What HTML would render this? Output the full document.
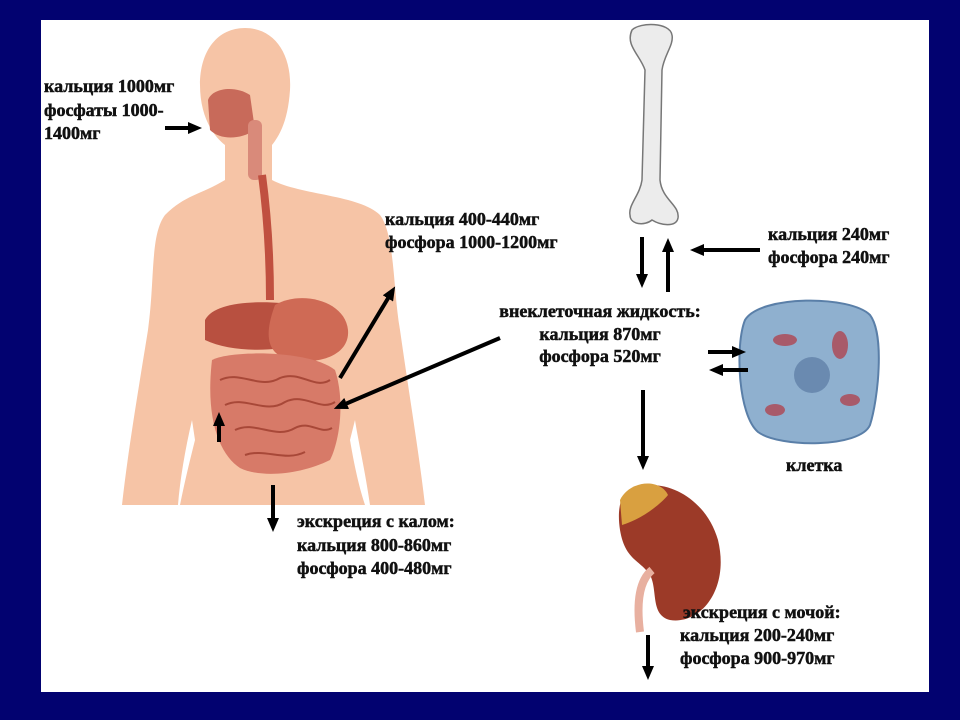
<!DOCTYPE html>
<html><head><meta charset="utf-8"><style>
html,body{margin:0;padding:0;width:960px;height:720px;background:#020270;overflow:hidden}
svg{position:absolute;left:0;top:0}
text{font-family:"Liberation Serif","DejaVu Serif",serif;font-weight:bold;font-size:18px;fill:#111;stroke:#111;stroke-width:0.5}
</style></head><body>
<svg width="960" height="720" viewBox="0 0 960 720">
<defs><marker id="a" markerWidth="14" markerHeight="12" refX="4" refY="6" orient="auto" markerUnits="userSpaceOnUse"><path d="M0,0 L14,6 L0,12 Z" fill="#000"/></marker></defs>
<rect x="41" y="20" width="888" height="672" fill="#fff"/>
<!-- body -->
<path d="M245,28 C275,28 292,55 290,90 C288,120 280,135 272,145 L272,180 C300,195 360,195 380,215 C395,235 393,290 400,330 C410,400 420,460 425,505 L370,505 C365,470 358,440 355,420 L350,440 C355,470 360,490 365,505 L180,505 C185,480 190,460 195,440 L192,420 C185,450 180,480 178,505 L122,505 C128,450 140,380 148,330 C155,280 150,235 165,215 C185,195 200,195 225,180 L225,145 C212,135 200,115 200,85 C200,50 218,28 245,28 Z" fill="#f6c4a6"/>
<path d="M208,100 C212,88 235,85 250,95 L255,130 C240,140 220,140 210,130 Z" fill="#c86a5a"/>
<rect x="248" y="120" width="14" height="60" rx="6" fill="#d98a7a"/>
<path d="M262,175 C268,220 270,260 270,300" stroke="#c05040" stroke-width="8" fill="none"/>
<path d="M205,320 C215,300 265,300 300,305 C320,310 320,335 300,345 C270,352 230,352 205,340 Z" fill="#b85040"/>
<path d="M275,305 C300,290 345,300 348,330 C350,355 320,365 290,360 C270,355 262,340 275,305 Z" fill="#cf6a55"/>
<path d="M212,360 C230,350 310,350 335,370 C345,400 340,440 330,460 C300,475 260,478 240,468 C220,455 205,420 212,360 Z" fill="#d77a68"/>
<g stroke="#a84838" stroke-width="2" fill="none">
<path d="M220,380 C240,370 260,390 280,378 C300,370 315,390 330,380"/>
<path d="M225,405 C245,395 265,415 285,402 C305,392 320,412 335,402"/>
<path d="M235,430 C255,420 275,440 295,428 C310,420 320,435 332,428"/>
<path d="M245,455 C265,448 285,462 305,452"/>
</g>
<!-- bone -->
<path d="M632,30 C640,22 670,22 672,35 C674,45 664,55 662,70 L660,180 C662,200 680,205 678,218 C676,228 660,225 652,220 C645,226 630,225 630,215 C628,205 640,195 642,180 L645,70 C640,55 625,45 632,30 Z" fill="#ececec" stroke="#777" stroke-width="1.5"/>
<!-- cell -->
<path d="M745,320 C760,295 850,295 870,315 C885,335 878,400 870,425 C860,448 780,448 758,432 C738,415 735,345 745,320 Z" fill="#8fb0cf" stroke="#5a7fa8" stroke-width="2"/>
<g fill="#a85a6a"><ellipse cx="785" cy="340" rx="12" ry="6"/><ellipse cx="840" cy="345" rx="8" ry="14"/><ellipse cx="775" cy="410" rx="10" ry="6"/><ellipse cx="850" cy="400" rx="10" ry="6"/></g>
<circle cx="812" cy="375" r="18" fill="#6a8ab0"/>
<!-- kidney -->
<path d="M630,490 C660,475 705,495 718,540 C730,590 700,625 670,620 C650,615 658,590 650,575 C640,560 625,560 620,530 C617,510 620,495 630,490 Z" fill="#9c3a28"/>
<path d="M620,500 C630,480 660,478 668,495 C660,505 640,520 622,525 Z" fill="#d9a040"/>
<path d="M652,570 C640,580 636,600 640,632" stroke="#e8b0a0" stroke-width="8" fill="none"/>
<!-- arrows -->
<g stroke="#000" stroke-width="4" fill="none">
<line x1="165" y1="128" x2="192" y2="128" marker-end="url(#a)"/>
<line x1="340" y1="378" x2="390" y2="295" marker-end="url(#a)"/>
<line x1="500" y1="338" x2="343" y2="405" marker-end="url(#a)"/>
<line x1="219" y1="442" x2="219" y2="422" marker-end="url(#a)"/>
<line x1="273" y1="485" x2="273" y2="522" marker-end="url(#a)"/>
<line x1="642" y1="237" x2="642" y2="278" marker-end="url(#a)"/>
<line x1="668" y1="292" x2="668" y2="248" marker-end="url(#a)"/>
<line x1="760" y1="250" x2="700" y2="250" marker-end="url(#a)"/>
<line x1="708" y1="352" x2="736" y2="352" marker-end="url(#a)"/>
<line x1="748" y1="370" x2="719" y2="370" marker-end="url(#a)"/>
<line x1="643" y1="390" x2="643" y2="460" marker-end="url(#a)"/>
<line x1="648" y1="635" x2="648" y2="670" marker-end="url(#a)"/>
</g>
<text x="44" y="92">кальция 1000мг</text>
<text x="44" y="116">фосфаты 1000-</text>
<text x="44" y="139">1400мг</text>
<text x="385" y="225">кальция 400-440мг</text>
<text x="385" y="248">фосфора 1000-1200мг</text>
<text x="600" y="317" text-anchor="middle">внеклеточная жидкость:</text>
<text x="600" y="340" text-anchor="middle">кальция 870мг</text>
<text x="600" y="362" text-anchor="middle">фосфора 520мг</text>
<text x="768" y="240">кальция 240мг</text>
<text x="768" y="263">фосфора 240мг</text>
<text x="786" y="471">клетка</text>
<text x="297" y="527">экскреция с калом:</text>
<text x="297" y="551">кальция 800-860мг</text>
<text x="297" y="574">фосфора 400-480мг</text>
<text x="683" y="618">экскреция с мочой:</text>
<text x="680" y="641">кальция 200-240мг</text>
<text x="680" y="664">фосфора 900-970мг</text>
</svg>
</body></html>
